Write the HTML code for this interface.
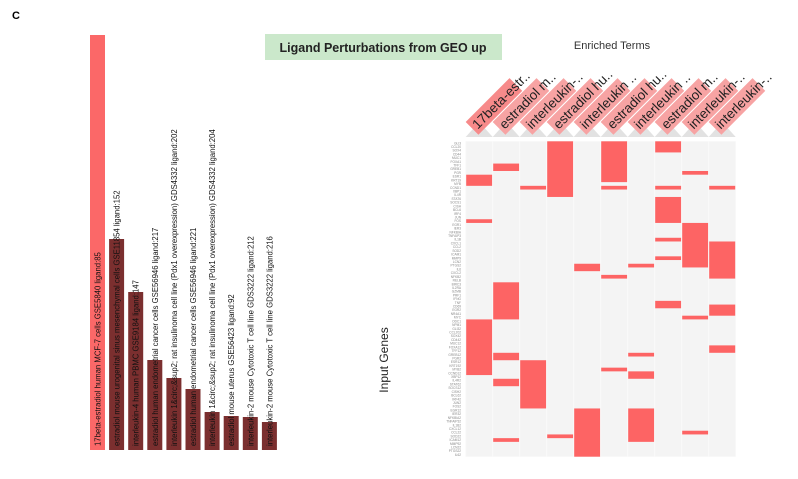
<!DOCTYPE html>
<html><head><meta charset="utf-8"><style>
body{margin:0;background:#fff;width:798px;height:479px;overflow:hidden;font-family:"Liberation Sans",sans-serif}
svg{position:absolute;left:0;top:0}
</style></head><body>
<svg id="chart" width="798" height="479" viewBox="0 0 798 479">
<text x="12" y="19" font-size="11" font-weight="bold">C</text>
<rect x="265" y="34" width="237" height="26" fill="#cbe8cb"/>
<text x="383" y="52" font-size="12.5" font-weight="bold" text-anchor="middle" fill="#222">Ligand Perturbations from GEO up</text>
<text x="612" y="49" font-size="11" text-anchor="middle" fill="#333">Enriched Terms</text>
<text transform="translate(388,360) rotate(-90)" font-size="12" text-anchor="middle" fill="#222">Input Genes</text>
<g id="bars"></g>
<g id="heat"></g>
</svg>
<script>
const barLabels=["17beta-estradiol human MCF-7 cells GSE5840 ligand:85","estradiol mouse urogenital sinus mesenchymal cells GSE11854 ligand:152","interleukin-4 human PBMC GSE9184 ligand:147","estradiol human endometrial cancer cells GSE56946 ligand:217","interleukin 1&circ;&sup2; rat insulinoma cell line (Pdx1 overexpression) GDS4332 ligand:202","estradiol human endometrial cancer cells GSE56946 ligand:221","interleukin 1&circ;&sup2; rat insulinoma cell line (Pdx1 overexpression) GDS4332 ligand:204","estradiol mouse uterus GSE56423 ligand:92","interleukin-2 mouse Cytotoxic T cell line GDS3222 ligand:212","interleukin-2 mouse Cytotoxic T cell line GDS3222 ligand:216"];
const barValues=[415,211,158,90,72,61,38,34,33,28];
const colLabels=["17beta-estr..","estradiol m..","interleukin-..","estradiol hu..","interleukin ..","estradiol hu..","interleukin ..","estradiol m..","interleukin-..","interleukin-.."];
// blocks per column: [startRow,endRow)
const colBlocks=[
 [[9,12],[21,22],[48,63]],
 [[6,8],[38,48],[57,59],[64,66],[80,81]],
 [[12,13],[59,72]],
 [[0,15],[79,80]],
 [[33,35],[72,85]],
 [[0,11],[12,13],[36,37],[61,62]],
 [[33,34],[57,58],[62,64],[72,81]],
 [[0,3],[12,13],[15,22],[26,27],[31,32],[43,45]],
 [[8,9],[22,34],[47,48],[78,79]],
 [[12,13],[27,37],[44,47],[55,57]]
];
const nRows=85;
const NS="http://www.w3.org/2000/svg";
function mk(t,a,p){const e=document.createElementNS(NS,t);for(const k in a)e.setAttribute(k,a[k]);p.appendChild(e);return e;}
const bg=document.getElementById('bars');
const base=450, maxH=415, bx0=90, bstep=19.1, bw=15;
const yb=v=>base-v/barValues[0]*maxH;
barValues.forEach((v,i)=>{
  const r=mk('rect',{x:bx0+i*bstep,y:yb(v),width:bw,height:base-yb(v),fill:i==0?'#fb6868':'#7b2f2f'},bg);
  
  
  const t=mk('text',{transform:`translate(${bx0+i*bstep+bw/2+3},446) rotate(-90)`,'font-size':'8.6',fill:'#111',textLength:'0'},bg);
  t.removeAttribute('textLength');
  t.textContent=barLabels[i];
  
  
  t.setAttribute('transform',`translate(${bx0+i*bstep+bw/2+3},446) rotate(-90) scale(0.9,1)`);
});
const hg=document.getElementById('heat');
const hx0=465.7, cw=27, hy0=141.3, rh=315.4/nRows;
const bgr=mk('rect',{x:hx0,y:hy0,width:cw*10,height:rh*nRows,fill:'#f4f4f4'},hg);


const genes=["GLI3","CCL20","SOX4","CD44","MUC1","FOXA1","TFF1","GREB1","PGR","ESR1","KRT19","MYB","CCND1","XBP1","IL4R","STAT6","SOCS1","CISH","BCL6","IRF4","JUN","FOS","EGR1","IER3","NFKBIA","TNFAIP3","IL1B","CXCL1","CCL2","SOD2","ICAM1","MMP9","LCN2","PTGS2","IL6","CXCL2","NFKB2","RELB","BIRC3","IL2RA","GZMB","PRF1","IFNG","TNF","CD69","EGR2","NR4A1","MYC","ODC1","NPM1"];
for(let r=0;r<nRows;r++){
  const t=mk('text',{x:461,y:hy0+(r+0.8)*rh,'font-size':'3.2','text-anchor':'end',fill:'#888'},hg);
  t.textContent=genes[r%genes.length]+(r>=genes.length?'2':'');
  
  
}
for(let c=0;c<10;c++){
  const x=hx0+c*cw;
  const sep=mk('line',{x1:x,x2:x,y1:hy0,y2:hy0+rh*nRows,stroke:'#fafafa','stroke-width':1},hg);
  
  
  const tri=mk('polygon',{points:`${x},137 ${x+cw},137 ${x+cw/2},122`,fill:'#e2e2e2'},hg);
  
  
  const g=mk('g',{transform:`translate(${x+12},134) rotate(-45)`},hg);
  
  
  mk('rect',{x:0,y:-17,width:62,height:18,fill:c==0?'#f78a8a':'#f7a3a3'},g);
  const t=mk('text',{x:3,y:-3,'font-size':'13.5',fill:'#222'},g);
  t.textContent=colLabels[c];
  colBlocks[c].forEach(b=>{
    const r=mk('rect',{x:x+0.5,y:hy0+b[0]*rh,width:cw-1,height:(b[1]-b[0])*rh,fill:'#fd6464'},hg);
    
    
  });
}
</script>
</body></html>
